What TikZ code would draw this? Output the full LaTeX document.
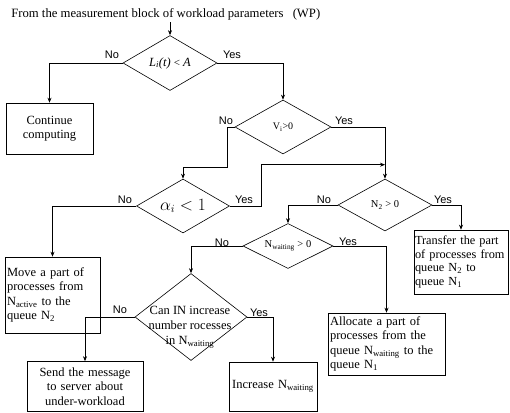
\documentclass[tikz,border=0pt]{standalone}
\usepackage{fontspec}
\setmainfont{Liberation Serif}
\newfontfamily\labfont{Liberation Sans}
\usetikzlibrary{shapes.geometric,arrows.meta}
\begin{document}
\begin{tikzpicture}[x=1pt,y=-1pt,
  line width=0.6pt,
  dia/.style={draw, shape=diamond, inner sep=0pt},
  box/.style={draw, rectangle, inner ysep=0pt, inner xsep=2pt, font=\fontsize{12.5}{14.5}\selectfont},
  arr/.style={-{Stealth[length=5pt,width=4pt]}},
  lab/.style={font=\labfont\fontsize{11}{13}\selectfont, inner sep=0pt, anchor=base},
  dtext/.style={inner sep=0pt, align=center}
]
\useasboundingbox (0,0) rectangle (510,412);

% title
\node[anchor=base west, inner sep=1pt, font=\fontsize{12.7}{15}\selectfont] (title) at (10,18)
  {From the measurement block of workload parameters\hspace{6pt} (WP)};

% diamonds
\node[dia, minimum width=94pt, minimum height=55pt] (d1) at (170,63) {};
\node[dtext, font=\fontsize{12.5}{15}\selectfont] at (d1) {\textit{L\textsubscript{i}(t)} {\fontsize{11}{13}\selectfont<} \textit{A}};
\node[dia, minimum width=96pt, minimum height=54pt] (d2) at (283,127) {};
\node[dtext, font=\fontsize{10}{12}\selectfont] at (d2) {V\textsubscript{i}>0};
\node[dia, minimum width=93pt, minimum height=54pt] (d3) at (183,206) {};
\node[dtext, font=\fontsize{16}{18}\selectfont] at (d3) {$\alpha_i < 1$};
\node[dia, minimum width=94pt, minimum height=52pt] (d4) at (385,205) {};
\node[dtext, font=\fontsize{10.5}{12}\selectfont] at (d4) {N\textsubscript{2} > 0};
\node[dia, minimum width=90pt, minimum height=45pt] (d5) at (288,246) {};
\node[dtext, font=\fontsize{10.5}{12}\selectfont] at (d5) {N\textsubscript{waiting} > 0};
\node[dia, minimum width=112pt, minimum height=87pt] (d6) at (191,317) {};
\node[dtext, font=\fontsize{12.5}{15}\selectfont] at (190,327) {Can IN increase\\number rocesses\\in N\textsubscript{waiting}};

% boxes
\node[box, minimum width=87pt, minimum height=51pt, text width=83pt, align=center] (b1) at (49.5,128.5) {Continue\\computing};
\node[box, minimum width=95pt, minimum height=76pt, text width=91pt, align=left] (b2) at (52.5,295) {Move a part of\\processes from\\N\textsubscript{active} to the\\queue N\textsubscript{2}};
\node[box, minimum width=94pt, minimum height=64pt, text width=92pt, inner xsep=1pt, align=left, font=\fontsize{12.3}{13.5}\selectfont] (b3) at (461,262) {\mbox{Transfer the part}\\\mbox{of processes from}\\\mbox{queue N\textsubscript{2} to}\\\mbox{queue N\textsubscript{1}}};
\node[box, minimum width=117pt, minimum height=62pt, text width=113pt, align=left] (b4) at (386.5,344) {Allocate a part of\\processes from the\\queue N\textsubscript{waiting} to the\\queue N\textsubscript{1}};
\node[box, minimum width=116pt, minimum height=50pt, text width=112pt, align=center] (b5) at (85,386.5) {Send the message\\to server about\\under-workload};
\node[box, minimum width=88pt, minimum height=49pt, text width=84pt, align=center] (b6) at (273,386.5) {Increase N\textsubscript{waiting}};

% connectors
\draw[arr] (title.south -| d1.north) -- (d1.north);
\draw[arr] (d1.west) -| (b1.north);
\draw[arr] (d1.east) -| (d2.north);
\draw[arr] (d2.east) -| (d4.north);
\coordinate (j) at ([yshift=14pt]d4.north);
\coordinate (k) at ([yshift=11pt]d3.north);
\draw[arr] (d2.west) -- ++(-7,0) |- (k) -- (d3.north);
\draw[arr] (d3.west) -| (b2.north);
\draw[arr] (d3.east) -- ++(31,0) |- (j);
\draw[arr] (d4.east) -| (b3.north);
\draw[arr] (d4.west) -| (d5.north);
\draw[arr] (d5.east) -| (b4.north);
\draw[arr] (d5.west) -| (d6.north);
\draw[arr] (d6.east) -| (b6.north);
\draw[arr] (d6.west) -| (b5.north);

% labels
\node[lab] at (112,59) {No};
\node[lab] at (232,59) {Yes};
\node[lab] at (226,124) {No};
\node[lab] at (344,124) {Yes};
\node[lab] at (125,203) {No};
\node[lab] at (244,203) {Yes};
\node[lab] at (324,203) {No};
\node[lab] at (443,203) {Yes};
\node[lab] at (222,246) {No};
\node[lab] at (348,245) {Yes};
\node[lab] at (120,313) {No};
\node[lab] at (259,316) {Yes};
\end{tikzpicture}
\end{document}
